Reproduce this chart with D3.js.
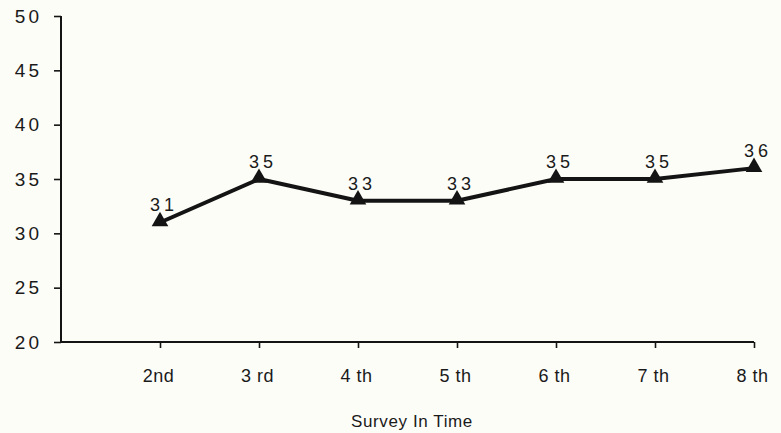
<!DOCTYPE html>
<html>
<head>
<meta charset="utf-8">
<script src="https://cdn.jsdelivr.net/npm/d3@7"></script>
<style>
  html, body { margin: 0; padding: 0; background: #fdfdf8; }
  svg { display: block; }
  text { font-family: "Liberation Sans", Arial, Helvetica, sans-serif; fill: #1a1a1a; }
</style>
</head>
<body>
<svg id="chart" width="781" height="433"></svg>
<script>
// Survey waves and the score recorded in each
const surveys = ["2nd", "3 rd", "4 th", "5 th", "6 th", "7 th", "8 th"];
const scores = [31, 35, 33, 33, 35, 35, 36];
const yTicks = [20, 25, 30, 35, 40, 45, 50];
const xTitle = "Survey In Time";

const svg = d3.select("#chart");
const plotLeft = 61, plotRight = 754, plotTop = 16, plotBottom = 342;

// One empty slot before the first survey so the series starts in from the axis
const x = d3.scalePoint().domain(["", ...surveys]).range([plotLeft, plotRight]);
const y = d3.scaleLinear().domain([20, 50]).range([plotBottom, plotTop]);

const ink = "#141414";

// Y axis
const yAxis = svg.append("g")
  .attr("transform", `translate(${plotLeft},0)`)
  .call(d3.axisLeft(y).tickValues(yTicks).tickSize(7).tickPadding(12).tickFormat(d3.format("d")));
yAxis.attr("font-size", null).attr("font-family", null);
yAxis.select(".domain").attr("stroke", ink).attr("stroke-width", 2).attr("d", `M0,${plotBottom}V${plotTop}`);
yAxis.selectAll(".tick line").attr("stroke", ink).attr("stroke-width", 1.6);
yAxis.selectAll(".tick text")
  .style("font-size", "19px").style("letter-spacing", "3px").attr("fill", ink);

// X axis
const xAxis = svg.append("g")
  .attr("transform", `translate(0,${plotBottom})`)
  .call(d3.axisBottom(x).tickValues(surveys).tickSize(6).tickPadding(21));
xAxis.attr("font-size", null).attr("font-family", null);
xAxis.select(".domain").attr("stroke", ink).attr("stroke-width", 2).attr("d", `M${plotLeft},0H${plotRight}`);
xAxis.selectAll(".tick line").attr("stroke", ink).attr("stroke-width", 1.6);
xAxis.selectAll(".tick text")
  .style("font-size", "18px").style("letter-spacing", "0.5px").attr("dx", "-2").attr("fill", ink);

// Axis title
svg.append("text")
  .attr("x", 412).attr("y", 427)
  .attr("text-anchor", "middle")
  .style("font-size", "17px")
  .style("letter-spacing", "0.6px")
  .text(xTitle);

// Series line
const pts = surveys.map((s, i) => ({ s, v: scores[i] }));
svg.append("path")
  .datum(pts)
  .attr("fill", "none")
  .attr("stroke", ink)
  .attr("stroke-width", 4)
  .attr("stroke-linejoin", "round")
  .attr("d", d3.line().x(d => x(d.s)).y(d => y(d.v)));

// Triangle markers
svg.append("g").selectAll("path")
  .data(pts).join("path")
  .attr("transform", d => `translate(${x(d.s)},${y(d.v) - 1})`)
  .attr("d", d3.symbol(d3.symbolTriangle, 120)())
  .attr("fill", ink);

// Value labels
svg.append("g").selectAll("text")
  .data(pts).join("text")
  .attr("x", d => x(d.s) + 4)
  .attr("y", d => y(d.v) - 11)
  .attr("text-anchor", "middle")
  .style("font-size", "18px")
  .style("letter-spacing", "4px")
  .text(d => d.v);
</script>
</body>
</html>
